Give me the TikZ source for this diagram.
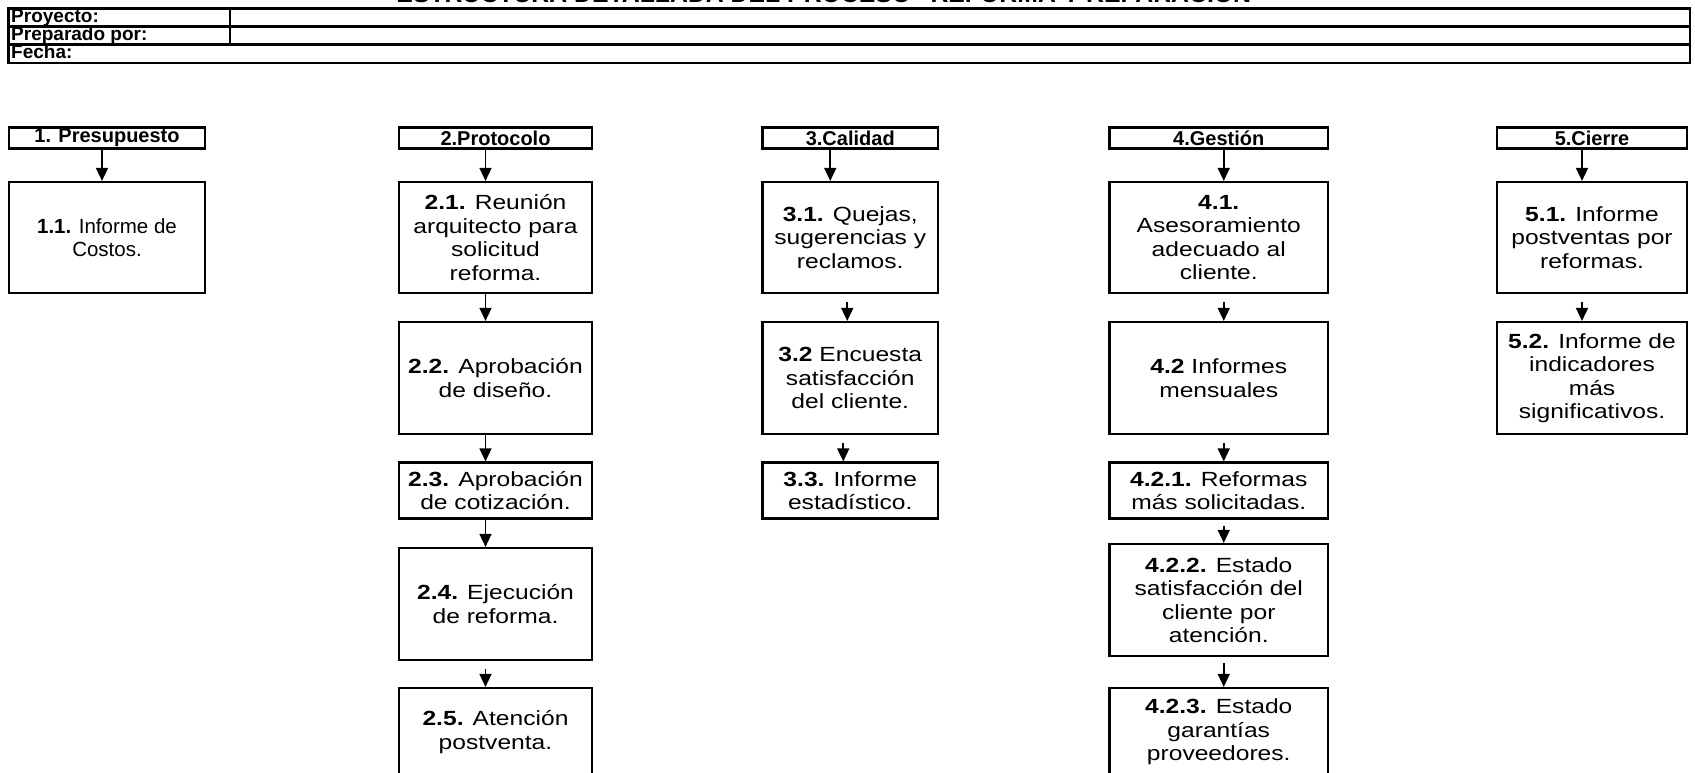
\documentclass[tikz,border=0pt]{standalone}
\usepackage{fontspec}
\setmainfont{Liberation Sans}
\newfontfamily\cuerpo{Liberation Sans}[FakeStretch=1.2]
\usetikzlibrary{arrows.meta}

\tikzset{
  caja/.style={draw, line width=2.2pt, align=center, inner sep=2pt,
    font=\cuerpo\fontsize{20.5}{23.5}\selectfont},
  sinestirar/.style={font=\fontsize{20.5}{23.5}\selectfont},
  fase/.style={draw, line width=2.2pt, inner sep=0pt, minimum height=21pt,
    font=\bfseries\fontsize{20}{22}\selectfont},
  campo/.style={anchor=base west, inner sep=0pt,
    font=\bfseries\fontsize{19}{20}\selectfont},
  tabla/.style={line width=2.2pt},
  flecha/.style={-{Triangle[length=13pt,width=12pt]}, line width=1.6pt},
  col1/.style={minimum width=196pt},
  col2/.style={minimum width=193pt},
  col3/.style={minimum width=175.5pt},
  col4/.style={minimum width=218.5pt},
  col5/.style={minimum width=190pt},
  filaA/.style={minimum height=111pt},
  filaB/.style={minimum height=112pt},
  filaC/.style={minimum height=56pt},
  filaD/.style={minimum height=112pt},
  filaE/.style={minimum height=88pt},
}

\begin{document}
\begin{tikzpicture}[x=1pt,y=-1pt]
  \useasboundingbox (0,0) rectangle (1695,772);
  \clip (0,0) rectangle (1695,772);

  % titulo y datos del proyecto
  \node[anchor=base, inner sep=0pt, font=\bfseries\fontsize{24.8}{27}\selectfont]
    (titulo) at (830,2.7) {ESTRUCTURA DETALLADA DEL PROCESO “REFORMA Y REPARACIÓN”};
  \draw[tabla] (8.5,8.5) rectangle (1690,63);
  \draw[tabla] (8.5,26.5) -- (1690,26.5);
  \draw[tabla] (8.5,44.5) -- (1690,44.5);
  \draw[tabla] (230,8.5) -- (230,44.5);
  \node[campo] (proyecto) at (11,22.5) {Proyecto:};
  \node[campo] (preparado) at (11,40.3) {Preparado por:};
  \node[campo] (fecha) at (11,58.6) {Fecha:};

  % fases
  \node[fase, col1] (f1) at (107,138) {1. Presupuesto};
  \node[fase, col2] (f2) at (495.5,138) {2.Protocolo};
  \node[fase, col3] (f3) at (850.25,138) {3.Calidad};
  \node[fase, col4] (f4) at (1218.75,138) {4.Gestión};
  \node[fase, col5] (f5) at (1592,138) {5.Cierre};

  % 1. Presupuesto
  \node[caja, sinestirar, col1, filaA] (t11) at (107,237.5) {\textbf{1.1.} Informe de\\Costos.};

  % 2. Protocolo
  \node[caja, col2, filaA] (t21) at (495.5,237.5) {\textbf{2.1.} Reunión\\arquitecto para\\solicitud\\reforma.};
  \node[caja, col2, filaB] (t22) at (495.5,378) {\textbf{2.2.} Aprobación\\de diseño.};
  \node[caja, col2, filaC] (t23) at (495.5,490.5) {\textbf{2.3.} Aprobación\\de cotización.};
  \node[caja, col2, filaD] (t24) at (495.5,604) {\textbf{2.4.} Ejecución\\de reforma.};
  \node[caja, col2, filaE] (t25) at (495.5,732) {\textbf{2.5.} Atención\\postventa.};

  % 3. Calidad
  \node[caja, col3, filaA] (t31) at (850.25,237.5) {\textbf{3.1.} Quejas,\\sugerencias y\\reclamos.};
  \node[caja, col3, filaB] (t32) at (850.25,378) {\textbf{3.2} Encuesta\\satisfacción\\del cliente.};
  \node[caja, col3, filaC] (t33) at (850.25,490.5) {\textbf{3.3.} Informe\\estadístico.};

  % 4. Gestion
  \node[caja, col4, filaA] (t41) at (1218.75,237.5) {\textbf{4.1.}\\Asesoramiento\\adecuado al\\cliente.};
  \node[caja, col4, filaB] (t42) at (1218.75,378) {\textbf{4.2} Informes\\mensuales};
  \node[caja, col4, filaC] (t421) at (1218.75,490.5) {\textbf{4.2.1.} Reformas\\más solicitadas.};
  \node[caja, col4, filaD] (t422) at (1218.75,600) {\textbf{4.2.2.} Estado\\satisfacción del\\cliente por\\atención.};
  \node[caja, col4, filaE] (t423) at (1218.75,732) {\textbf{4.2.3.} Estado\\garantías\\proveedores.};

  % 5. Cierre
  \node[caja, col5, filaA] (t51) at (1592,237.5) {\textbf{5.1.} Informe\\postventas por\\reformas.};
  \node[caja, col5, filaB] (t52) at (1592,378) {\textbf{5.2.} Informe de\\indicadores\\más\\significativos.};

  % flechas
  \draw[flecha] ([xshift=-5pt]f1.south) -- ([xshift=-5pt]t11.north);

  \draw[flecha] ([xshift=-10pt]f2.south) -- ([xshift=-10pt]t21.north);
  \draw[flecha] ([xshift=-10pt]t21.south) -- ([xshift=-10pt]t22.north);
  \draw[flecha] ([xshift=-10pt]t22.south) -- ([xshift=-10pt]t23.north);
  \draw[flecha] ([xshift=-10pt]t23.south) -- ([xshift=-10pt]t24.north);
  \draw[flecha, shorten <=8pt] ([xshift=-10pt]t24.south) -- ([xshift=-10pt]t25.north);

  \draw[flecha] ([xshift=-20pt]f3.south) -- ([xshift=-20pt]t31.north);
  \draw[flecha, shorten <=8pt] ([xshift=-3pt]t31.south) -- ([xshift=-3pt]t32.north);
  \draw[flecha, shorten <=8pt] ([xshift=-7pt]t32.south) -- ([xshift=-7pt]t33.north);

  \draw[flecha] ([xshift=5pt]f4.south) -- ([xshift=5pt]t41.north);
  \draw[flecha, shorten <=8pt] ([xshift=5pt]t41.south) -- ([xshift=5pt]t42.north);
  \draw[flecha, shorten <=8pt] ([xshift=5pt]t42.south) -- ([xshift=5pt]t421.north);
  \draw[flecha, shorten <=6pt] ([xshift=5pt]t421.south) -- ([xshift=5pt]t422.north);
  \draw[flecha, shorten <=6pt] ([xshift=5pt]t422.south) -- ([xshift=5pt]t423.north);

  \draw[flecha] ([xshift=-10pt]f5.south) -- ([xshift=-10pt]t51.north);
  \draw[flecha, shorten <=8pt] ([xshift=-10pt]t51.south) -- ([xshift=-10pt]t52.north);
\end{tikzpicture}
\end{document}
